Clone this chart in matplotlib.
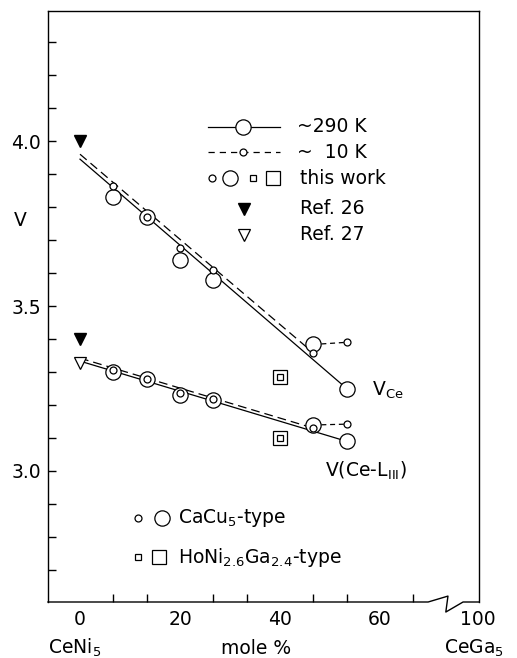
import matplotlib
matplotlib.use('Agg')
import matplotlib.pyplot as plt
import numpy as np

# mole % CeGa5
x_pts = [6.67, 13.33, 20.0, 26.67, 46.67, 53.33]

# V_Ce
vce_290 = [3.83, 3.77, 3.64, 3.58, 3.385, 3.25]
vce_10 = [3.865, 3.77, 3.675, 3.61, 3.358]
vce_10_end = 3.39  # second phase point at 53.33
vce_fit_290 = ([0, 53.33], [3.945, 3.25])
vce_fit_10 = ([0, 46.67], [3.96, 3.358])

# V(Ce-L_III)
vl_290 = [3.30, 3.28, 3.23, 3.215, 3.14, 3.09]
vl_10 = [3.306, 3.28, 3.236, 3.218, 3.13]
vl_10_end = 3.142
vl_fit_290 = ([0, 53.33], [3.333, 3.09])
vl_fit_10 = ([0, 46.67], [3.342, 3.13])

# HoNi2.6Ga2.4-type at 40 %
sq_x = [40, 40]
sq_y = [3.285, 3.10]

ref26_x, ref26_y = [0, 0], [4.0, 3.40]
ref27_x, ref27_y = [0], [3.328]

fig = plt.figure(figsize=(5.17, 6.58), dpi=100)
ax = fig.add_axes([48 / 517, 56 / 658, 431 / 517, 591 / 658])
ax.set_xlim(-6.4, 79.8)
ax.set_ylim(2.603, 4.394)

lw = 0.9
dash = (0, (7, 4))
big = dict(marker='o', ms=11, mfc='white', mec='black', mew=lw, ls='none', zorder=3)
small = dict(marker='o', ms=5, mfc='white', mec='black', mew=lw, ls='none', zorder=4)

for fit290, fit10 in [(vce_fit_290, vce_fit_10), (vl_fit_290, vl_fit_10)]:
    ax.plot(*fit290, color='black', lw=lw, zorder=2)
    ax.plot(*fit10, color='black', lw=lw, ls=dash, zorder=2)

ax.plot(x_pts, vce_290, **big)
ax.plot(x_pts, vl_290, **big)
ax.plot(x_pts[:5], vce_10, **small)
ax.plot(x_pts[:5], vl_10, **small)

# dashed links to 10 K points of last composition
for y290, yend in [(vce_290[4], vce_10_end), (vl_290[4], vl_10_end)]:
    ax.plot([x_pts[4] + 1.6, x_pts[5]], [y290, yend], color='black', lw=lw, ls=(0, (4, 3)), zorder=2)
    ax.plot([x_pts[5]], [yend], **small)

ax.plot(sq_x, sq_y, marker='s', ms=10, mfc='white', mec='black', mew=lw, ls='none', zorder=3)
ax.plot(sq_x, sq_y, marker='s', ms=4.5, mfc='white', mec='black', mew=lw, ls='none', zorder=4)

ax.plot(ref26_x, ref26_y, marker='v', ms=9, color='black', ls='none', zorder=3)
ax.plot(ref27_x, ref27_y, marker='v', ms=9, mfc='white', mec='black', mew=lw, ls='none', zorder=3)

fs = 13.5
ax.text(58.5, 3.245, r'$\mathregular{V_{Ce}}$', fontsize=fs, va='center', ha='left')
ax.text(49, 3.0, r'V(Ce-L$\mathregular{_{III}}$)', fontsize=fs, va='center', ha='left')

# legend block
T = ax.transAxes
ax.plot([0.371, 0.538], [0.804, 0.804], color='black', lw=lw, transform=T)
ax.plot([0.452], [0.804], transform=T, **big)
ax.text(0.578, 0.804, '~290 K', fontsize=fs, va='center', transform=T)
ax.plot([0.371, 0.538], [0.761, 0.761], color='black', lw=lw, ls=(0, (5, 4)), transform=T)
ax.plot([0.452], [0.761], transform=T, **small)
ax.text(0.578, 0.761, '~  10 K', fontsize=fs, va='center', transform=T)
ax.plot([0.381], [0.717], transform=T, **small)
ax.plot([0.422], [0.717], transform=T, **big)
ax.plot([0.476], [0.717], marker='s', ms=4.5, mfc='white', mec='black', mew=lw, transform=T)
ax.plot([0.522], [0.717], marker='s', ms=10, mfc='white', mec='black', mew=lw, transform=T)
ax.text(0.585, 0.717, 'this work', fontsize=fs, va='center', transform=T)
ax.plot([0.455], [0.665], marker='v', ms=9, color='black', transform=T)
ax.text(0.585, 0.665, 'Ref. 26', fontsize=fs, va='center', transform=T)
ax.plot([0.455], [0.621], marker='v', ms=9, mfc='white', mec='black', mew=lw, transform=T)
ax.text(0.585, 0.621, 'Ref. 27', fontsize=fs, va='center', transform=T)

ax.plot([0.209], [0.142], transform=T, **small)
ax.plot([0.265], [0.142], transform=T, **big)
ax.text(0.302, 0.142, r'CaCu$\mathregular{_5}$-type', fontsize=fs, va='center', transform=T)
ax.plot([0.209], [0.076], marker='s', ms=4.5, mfc='white', mec='black', mew=lw, transform=T)
ax.plot([0.258], [0.076], marker='s', ms=10, mfc='white', mec='black', mew=lw, transform=T)
ax.text(0.302, 0.076, r'HoNi$\mathregular{_{2.6}}$Ga$\mathregular{_{2.4}}$-type', fontsize=fs, va='center', transform=T)

# axes styling
ax.spines['bottom'].set_visible(False)
for s in ['left', 'top', 'right']:
    ax.spines[s].set_linewidth(1.0)
bx = [0, 0.882, 0.928, 0.923, 0.963, 1.0]
by = [0, 0, 0.010, -0.017, 0, 0]
ax.plot(bx, by, color='black', lw=1.0, transform=T, clip_on=False)

ax.set_yticks([3.0, 3.5, 4.0])
ax.set_yticklabels(['3.0', '3.5', '4.0'], fontsize=fs)
ax.set_yticks(np.arange(2.7, 4.35, 0.1), minor=True)
ax.set_xticks([0, 20, 40, 60, 79.6])
ax.set_xticklabels(['0', '20', '40', '60', '100'], fontsize=fs)
ax.set_xticks([20 / 3 * k for k in range(11)], minor=True)
ax.tick_params(axis='both', which='both', direction='in', length=6, width=1.0, right=False, top=False)
ax.tick_params(axis='x', which='major', length=6, pad=6)
ax.tick_params(axis='y', which='major', pad=5)
for t in ax.xaxis.get_major_ticks():
    t.tick1line.set_visible(False)

ax.text(-0.065, 0.646, 'V', fontsize=fs, va='center', ha='center', transform=T)
ax.text(-1, -0.078, r'CeNi$\mathregular{_5}$', fontsize=fs, va='center', ha='center',
        transform=ax.get_xaxis_transform())
ax.text(35.2, -0.078, 'mole %', fontsize=fs, va='center', ha='center', transform=ax.get_xaxis_transform())
ax.text(78.8, -0.078, r'CeGa$\mathregular{_5}$', fontsize=fs, va='center', ha='center',
        transform=ax.get_xaxis_transform(), clip_on=False)

fig.savefig('out.png', dpi=100)
